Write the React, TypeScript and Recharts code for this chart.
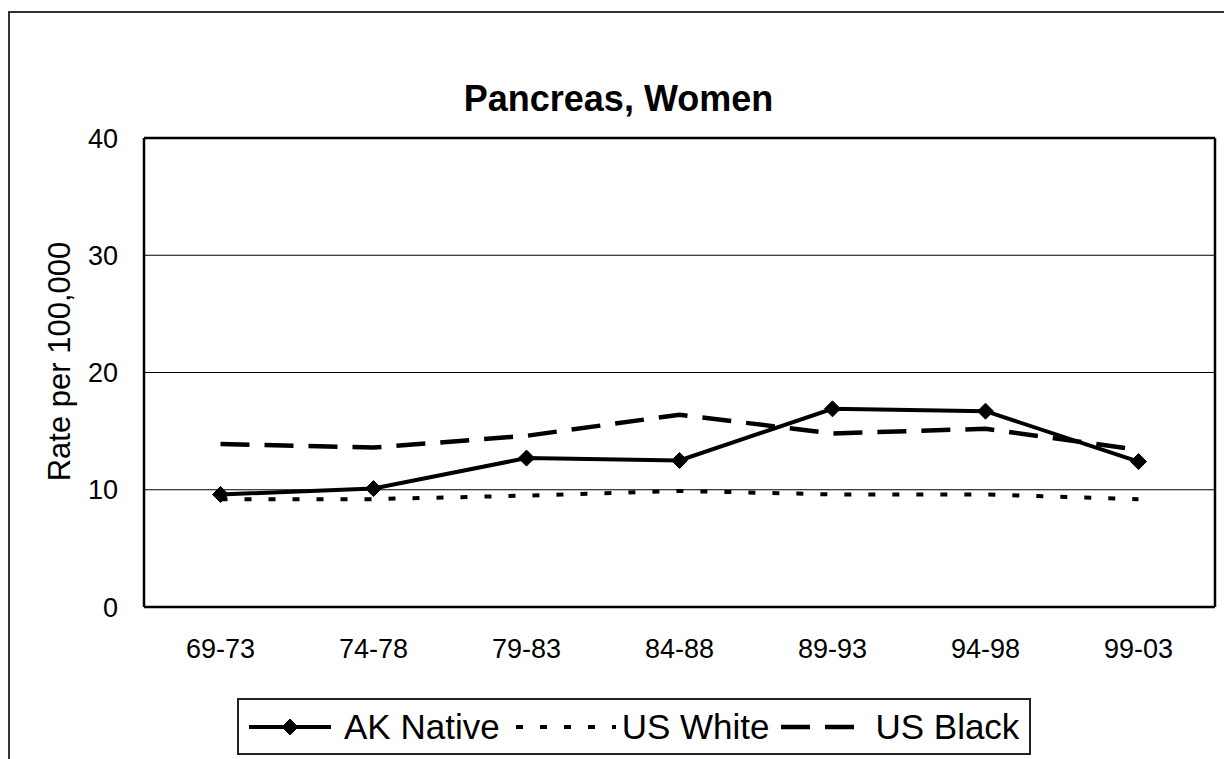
import React from 'react'
import {
  LineChart,
  Line,
  XAxis,
  YAxis,
  CartesianGrid,
  Legend,
  Label,
} from 'recharts'

const FONT = '"Liberation Sans", Arial, sans-serif'

const periods = ['69-73', '74-78', '79-83', '84-88', '89-93', '94-98', '99-03']
const akNative = [9.6, 10.1, 12.7, 12.5, 16.9, 16.7, 12.4]
const usWhite = [9.2, 9.2, 9.5, 9.9, 9.6, 9.6, 9.2]
const usBlack = [13.9, 13.6, 14.6, 16.4, 14.8, 15.2, 13.4]
const yTicks = [0, 10, 20, 30, 40]

const data = periods.map((p, i) => ({
  period: p,
  akNative: akNative[i],
  usWhite: usWhite[i],
  usBlack: usBlack[i],
}))

const SERIES = [
  { key: 'akNative', name: 'AK Native', dash: undefined, width: 4, marker: true, iconW: 82, gap: 13, before: 0 },
  { key: 'usWhite', name: 'US White', dash: '7 17', width: 4, marker: false, iconW: 100, gap: 6, before: 16 },
  { key: 'usBlack', name: 'US Black', dash: '29 15', width: 4.5, marker: false, iconW: 74, gap: 20, before: 12 },
]

function Diamond(props: any) {
  const { cx, cy } = props
  if (cx == null || cy == null) return null
  const r = 8
  return (
    <polygon
      points={`${cx},${cy - r} ${cx + r},${cy} ${cx},${cy + r} ${cx - r},${cy}`}
      fill="#000"
      stroke="#000"
    />
  )
}

function LegendBox() {
  return (
    <div
      style={{
        boxSizing: 'border-box',
        width: 794,
        height: 57,
        border: '2px solid #222',
        background: '#fff',
        display: 'flex',
        alignItems: 'center',
        paddingLeft: 10,
        fontFamily: FONT,
        fontSize: 35,
        color: '#000',
      }}
    >
      {SERIES.map((s) => (
        <div key={s.key} style={{ display: 'flex', alignItems: 'center', marginLeft: s.before }}>
          <svg width={s.iconW} height={20} style={{ display: 'block' }}>
            <line
              x1={0}
              y1={10}
              x2={s.iconW}
              y2={10}
              stroke="#000"
              strokeWidth={s.width}
              strokeDasharray={s.dash}
            />
            {s.marker && <Diamond cx={s.iconW / 2} cy={10} />}
          </svg>
          <span style={{ marginLeft: s.gap, lineHeight: 1 }}>{s.name}</span>
        </div>
      ))}
    </div>
  )
}

export default function App() {
  return (
    <div
      style={{
        position: 'absolute',
        left: 8,
        top: 11,
        width: 1216,
        height: 748,
        borderLeft: '2px solid #333',
        borderTop: '2px solid #333',
        boxSizing: 'border-box',
        background: '#fff',
      }}
    >
      <div
        style={{
          position: 'absolute',
          left: 3,
          top: 68,
          width: 1211,
          textAlign: 'center',
          fontFamily: FONT,
          fontWeight: 'bold',
          fontSize: 36,
          lineHeight: 1,
          color: '#000',
        }}
      >
        Pancreas, Women
      </div>
      <LineChart
        width={1214}
        height={746}
        data={data}
        margin={{ top: 124, right: 8, left: 0, bottom: 112 }}
        style={{ fontFamily: FONT }}
      >
        <CartesianGrid horizontal vertical={false} stroke="#000" strokeWidth={1} />
        <XAxis
          dataKey="period"
          scale="band"
          height={40}
          tickSize={0}
          tickMargin={32}
          tick={{ fontSize: 27, fill: '#000' }}
          axisLine={{ stroke: '#000', strokeWidth: 2.5 }}
          tickLine={false}
          interval={0}
        />
        <XAxis xAxisId="top" orientation="top" dataKey="period" height={1} tick={false} tickLine={false} axisLine={{ stroke: '#000', strokeWidth: 2.5 }} />
        <YAxis
          domain={[0, 40]}
          ticks={yTicks}
          width={134}
          tickSize={0}
          tickMargin={26}
          tick={{ fontSize: 27, fill: '#000' }}
          axisLine={{ stroke: '#000', strokeWidth: 2.5 }}
          tickLine={false}
        >
          <Label
            value="Rate per 100,000"
            angle={-90}
            position="center"
            dx={-18}
            dy={-11}
            style={{ fontSize: 31, fill: '#000', textAnchor: 'middle' }}
          />
        </YAxis>
        <YAxis yAxisId="right" orientation="right" width={1} tick={false} tickLine={false} axisLine={{ stroke: '#000', strokeWidth: 2.5 }} />
        <Line
          dataKey="usWhite"
          name="US White"
          stroke="#000"
          strokeWidth={4}
          strokeDasharray="7 17"
          dot={false}
          activeDot={false}
          isAnimationActive={false}
        />
        <Line
          dataKey="usBlack"
          name="US Black"
          stroke="#000"
          strokeWidth={4.5}
          strokeDasharray="29 15"
          dot={false}
          activeDot={false}
          isAnimationActive={false}
        />
        <Line
          dataKey="akNative"
          name="AK Native"
          stroke="#000"
          strokeWidth={4}
          dot={<Diamond />}
          activeDot={false}
          isAnimationActive={false}
        />
        <Legend
          verticalAlign="middle"
          align="center"
          content={() => <LegendBox />}
          wrapperStyle={{ left: 227, top: 685, width: 794, height: 57 }}
        />
      </LineChart>
    </div>
  )
}
